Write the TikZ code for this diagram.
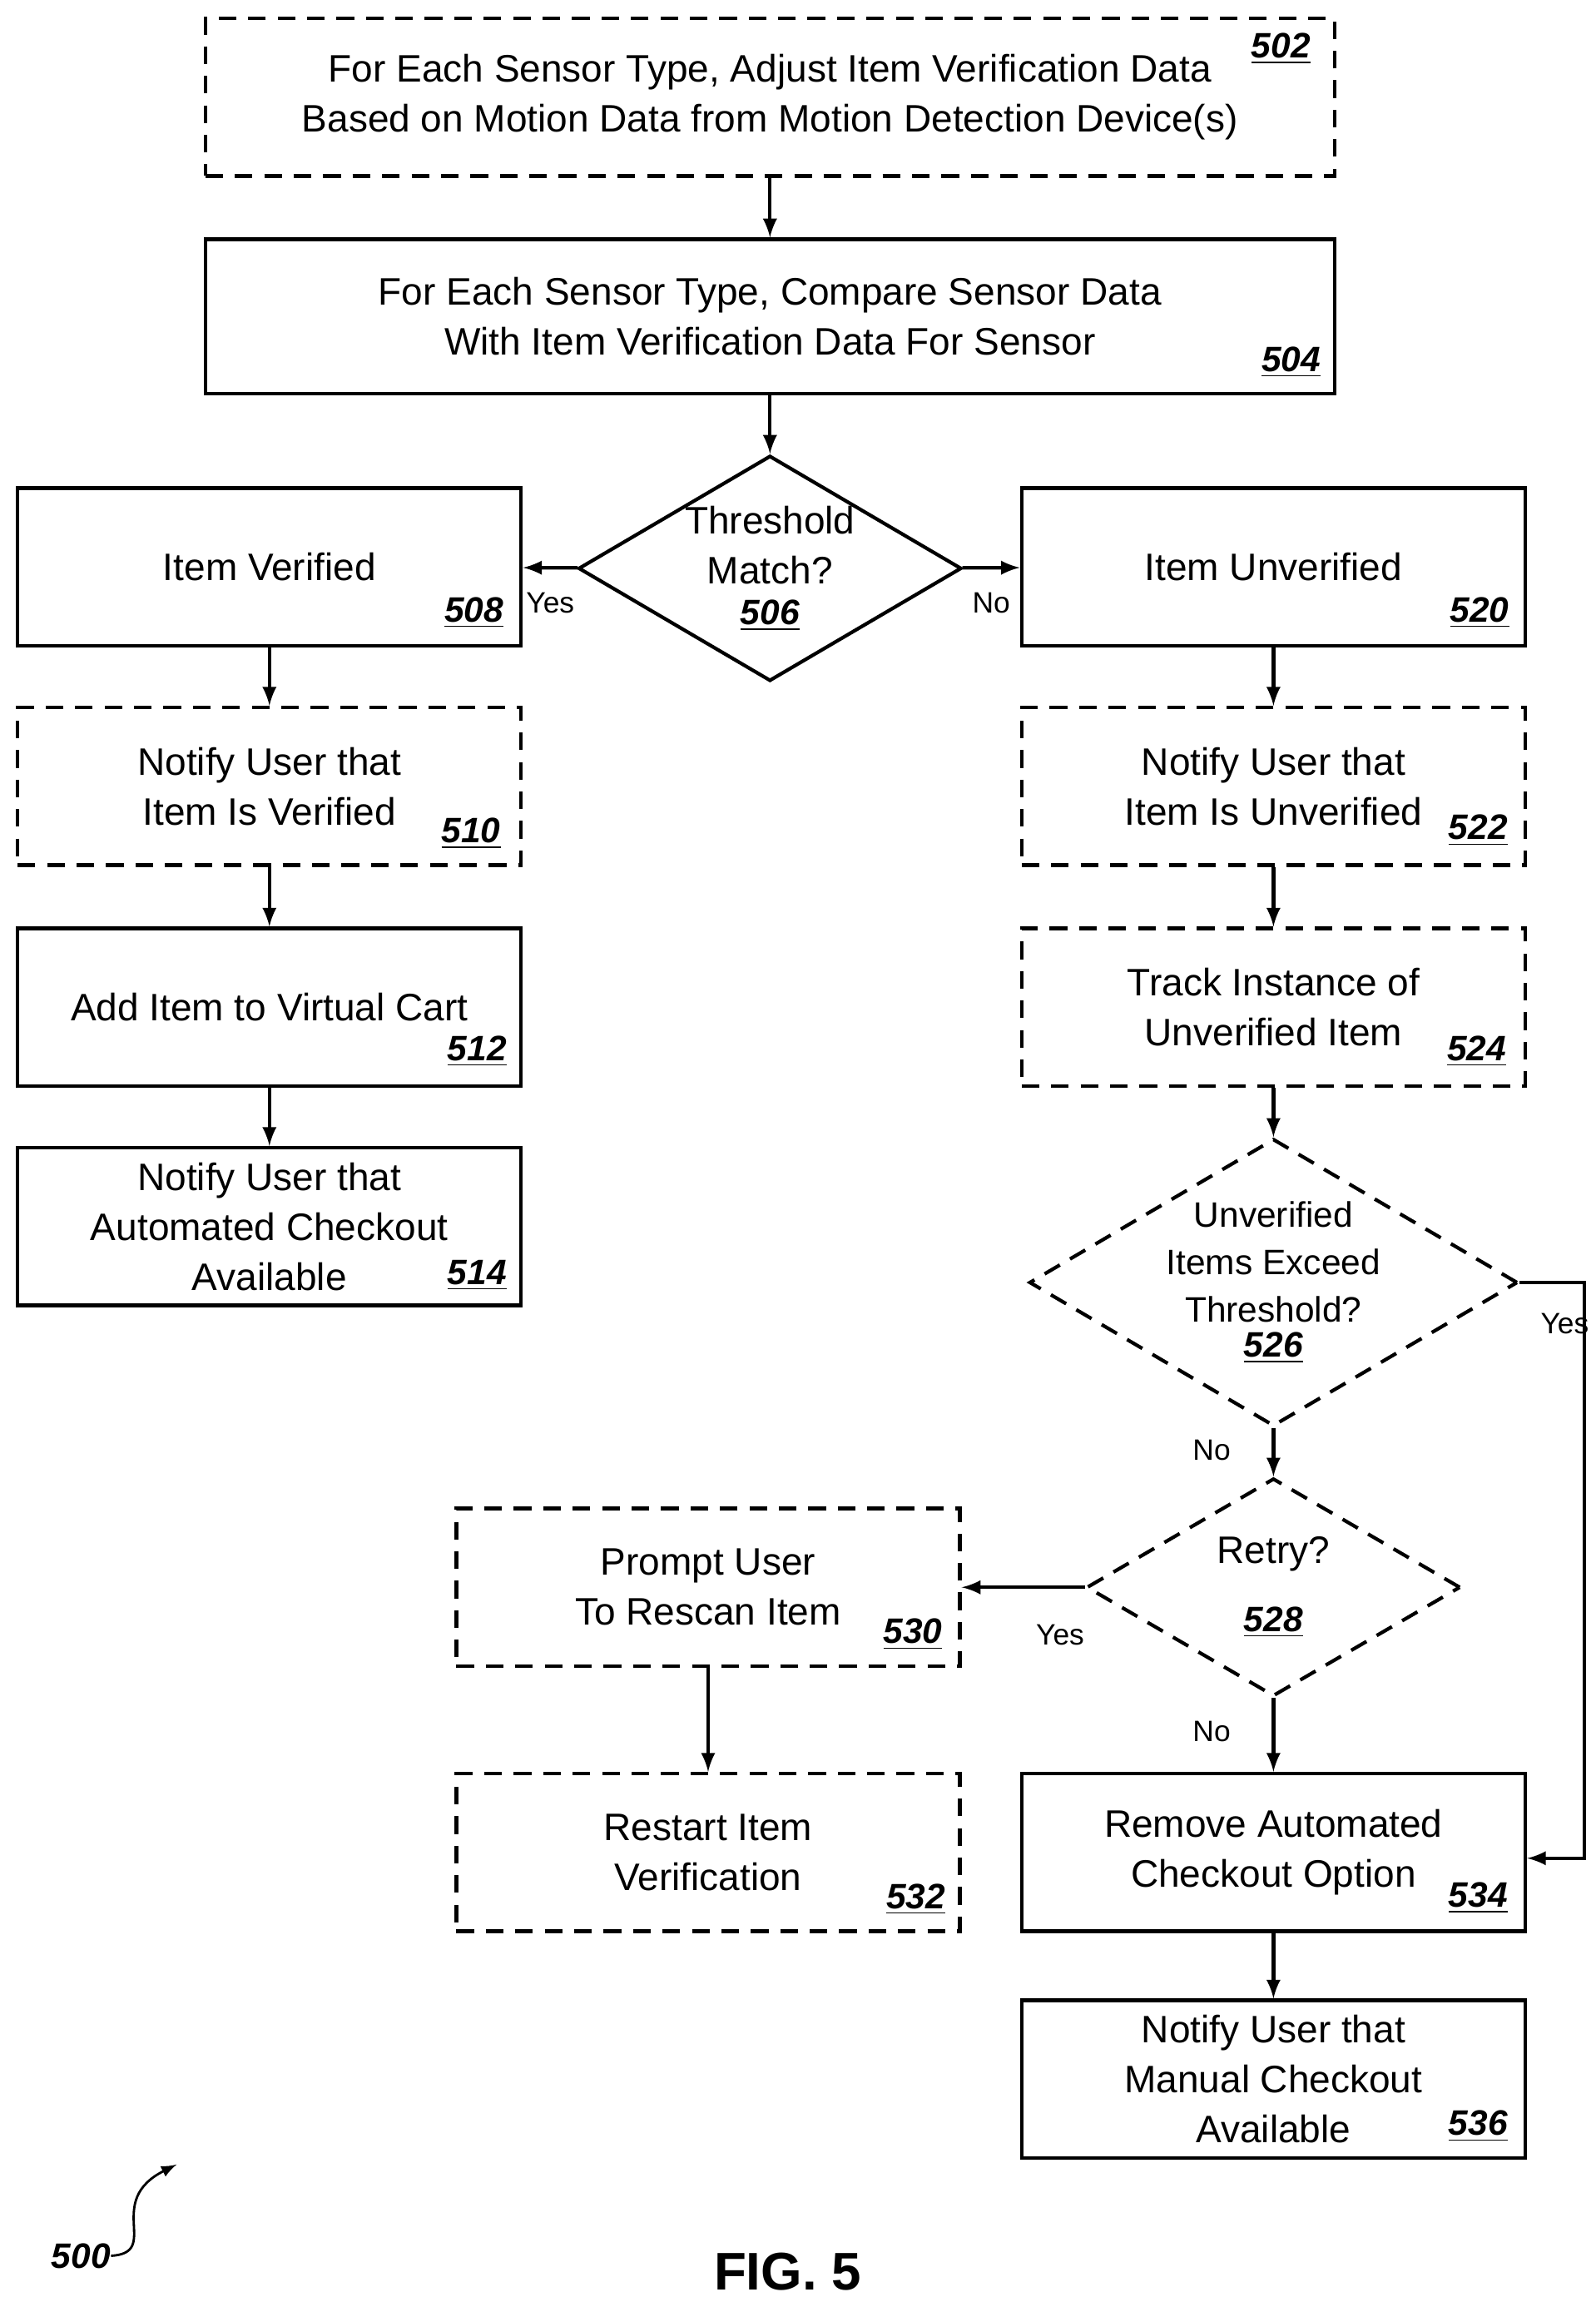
\documentclass[tikz,border=0pt]{standalone}
\usepackage{fontspec}
\setmainfont{Liberation Sans}
\usetikzlibrary{shapes.geometric, arrows, positioning}
\tikzstyle{process}=[rectangle, draw=black, line width=1.2pt, minimum width=171pt, minimum height=53.5pt, text centered, align=center, inner sep=0pt, font=\fontsize{13}{17}\selectfont]
\tikzstyle{optprocess}=[process, dash pattern=on 6pt off 4pt]
\tikzstyle{wide}=[minimum width=383.5pt]
\tikzstyle{decision}=[diamond, draw=black, line width=1.2pt, aspect=1.7, inner sep=0pt, align=center, font=\fontsize{13}{17}\selectfont]
\tikzstyle{num}=[font=\fontsize{12}{14}\selectfont\bfseries\itshape, inner sep=0pt]
\tikzstyle{lbl}=[font=\fontsize{10}{12}\selectfont, inner sep=0pt]
\tikzstyle{arrow}=[line width=1.2pt, ->, >=latex]
\newcommand{\stepnum}[1]{\underline{#1}}
\begin{document}
\begin{tikzpicture}[x=0.5pt, y=-0.5pt]
		\useasboundingbox (0,0) rectangle (1084,1560);

		\node(n502)[optprocess, wide, minimum height=53.5pt] at (523,66){For Each Sensor Type, Adjust Item Verification Data\\Based on Motion Data from Motion Detection Device(s)};
		\node[num] at (870,33){\stepnum{502}};

		\node(n504)[process, wide, minimum height=52.5pt] at (523,215){For Each Sensor Type, Compare Sensor Data\\With Item Verification Data For Sensor};
		\node[num] at (877,246){\stepnum{504}};

		\node(n506)[decision, minimum width=126pt, minimum height=74pt] at (523,386){Threshold\\Match?\\[-3pt]{\fontsize{12}{14}\selectfont\bfseries\itshape\stepnum{506}}};

		\node(n508)[process] at (183,385){Item Verified};
		\node[num] at (322,416){\stepnum{508}};
		\node(n510)[optprocess] at (183,534){Notify User that\\Item Is Verified};
		\node[num] at (320,566){\stepnum{510}};
		\node(n512)[process] at (183,684){Add Item to Virtual Cart};
		\node[num] at (324,714){\stepnum{512}};
		\node(n514)[process] at (183,833){Notify User that\\Automated Checkout\\Available};
		\node[num] at (324,866){\stepnum{514}};

		\node(n520)[process] at (865,385){Item Unverified};
		\node[num] at (1005,416){\stepnum{520}};
		\node(n522)[optprocess] at (865,534){Notify User that\\Item Is Unverified};
		\node[num] at (1004,564){\stepnum{522}};
		\node(n524)[optprocess] at (865,684){Track Instance of\\Unverified Item};
		\node[num] at (1003,714){\stepnum{524}};

		\node(n526)[decision, dash pattern=on 6pt off 4pt, minimum width=128pt, minimum height=89pt, font=\fontsize{12}{16}\selectfont] at (865,871){Unverified\\Items Exceed\\Threshold?\\[-4pt]{\fontsize{12}{14}\selectfont\bfseries\itshape\stepnum{526}}};
		\node(n528)[decision, dash pattern=on 6pt off 4pt, minimum width=127pt, minimum height=74pt] at (865,1078){Retry?\\[6pt]{\fontsize{12}{14}\selectfont\bfseries\itshape\stepnum{528}}};

		\node(n530)[optprocess] at (481,1078){Prompt User\\To Rescan Item};
		\node[num] at (620,1110){\stepnum{530}};
		\node(n532)[optprocess] at (481,1258){Restart Item\\Verification};
		\node[num] at (622,1290){\stepnum{532}};

		\node(n534)[process] at (865,1258){Remove Automated\\Checkout Option};
		\node[num] at (1004,1289){\stepnum{534}};
		\node(n536)[process] at (865,1412){Notify User that\\Manual Checkout\\Available};
		\node[num] at (1004,1444){\stepnum{536}};

		\coordinate(c1) at (1076,871);
		\coordinate(c2) at (1076,1262);

		\draw[arrow](n502)--(n504);
		\draw[arrow](n504)--(n506);
		\draw[arrow](n506)--(n508) node[lbl, pos=0.5, below=8pt]{Yes};
		\draw[arrow](n506)--(n520) node[lbl, pos=0.5, below=8pt]{No};
		\draw[arrow](n508)--(n510);
		\draw[arrow](n510)--(n512);
		\draw[arrow](n512)--(n514);
		\draw[arrow](n520)--(n522);
		\draw[arrow](n522)--(n524);
		\draw[arrow](n524)--(n526);
		\draw[arrow](n526.east)--(c1) node[lbl, pos=0.7, below=10pt]{Yes}--(c2)--(n534.east|-c2);
		\draw[arrow](n526)--(n528) node[lbl, pos=0.45, left=14pt]{No};
		\draw[arrow](n528)--(n530) node[lbl, pos=0.2, below=12pt]{Yes};
		\draw[arrow](n528)--(n534) node[lbl, pos=0.45, left=14pt]{No};
		\draw[arrow](n530)--(n532);
		\draw[arrow](n534)--(n536);

		\node(n500)[num] at (55,1532){500};
		\draw[->, >=latex, line width=0.8pt](n500.east) .. controls (110,1530) and (70,1495) .. (120,1470);
		\node(fig)[font=\fontsize{18}{20}\selectfont\bfseries] at (535,1543){FIG. 5};
\end{tikzpicture}
\end{document}
